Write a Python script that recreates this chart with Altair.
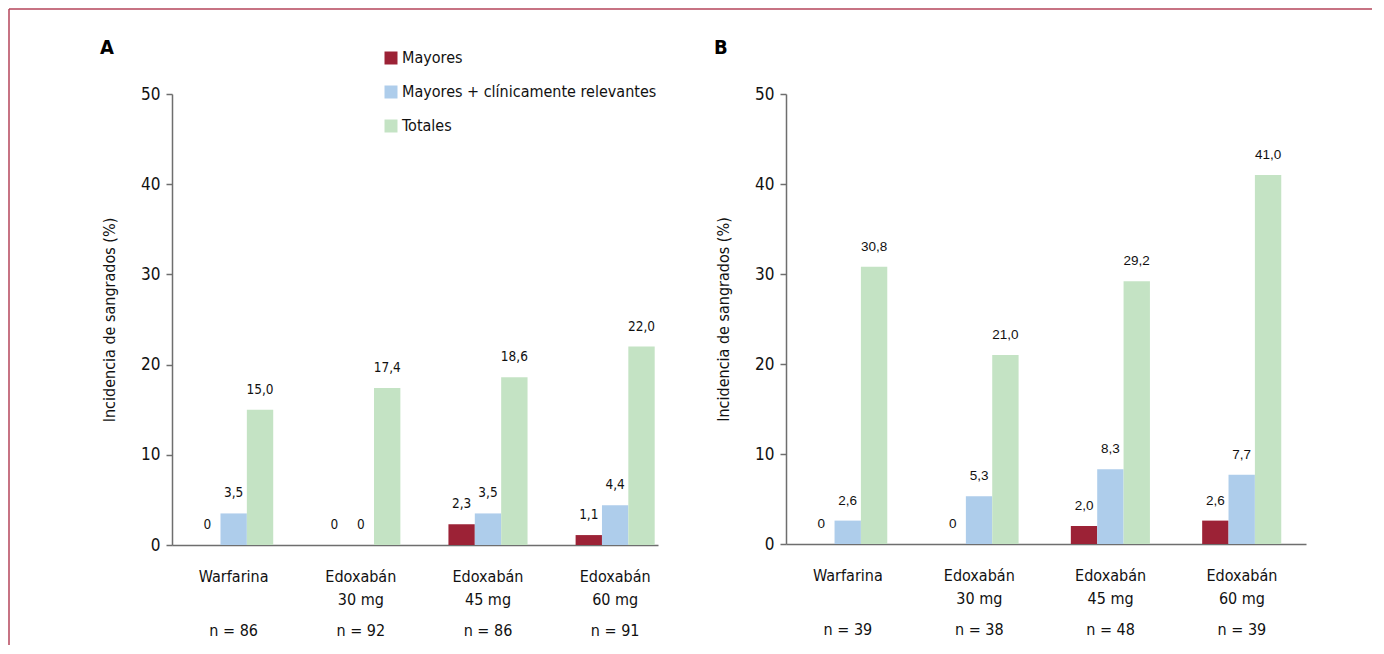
import altair as alt
import pandas as pd

groups = ["Warfarina", "Edoxabán|30 mg", "Edoxabán|45 mg", "Edoxabán|60 mg"]
series = ["Mayores", "Mayores + clínicamente relevantes", "Totales"]
colors = ["#9c2236", "#aecdeb", "#c4e3c4"]

a_mayores = [0, 0, 2.3, 1.1]
a_relevantes = [3.5, 0, 3.5, 4.4]
a_totales = [15.0, 17.4, 18.6, 22.0]
a_n = ["n = 86", "n = 92", "n = 86", "n = 91"]

b_mayores = [0, 0, 2.0, 2.6]
b_relevantes = [2.6, 5.3, 8.3, 7.7]
b_totales = [30.8, 21.0, 29.2, 41.0]
b_n = ["n = 39", "n = 38", "n = 48", "n = 39"]

y_ticks = [0, 10, 20, 30, 40, 50]

NARROW = "Liberation Sans Narrow, DejaVu Sans Condensed, sans-serif"
REG = "Liberation Sans, Arial, sans-serif"
FRAME = "#b4455a"


def long_df(m, r, t):
    rows = []
    for i, g in enumerate(groups):
        for s, v in zip(series, [m[i], r[i], t[i]]):
            rows.append({"grupo": g, "serie": s, "valor": v})
    return pd.DataFrame(rows)


def panel(letter, m, r, t, nlab, w, h, pin, pout, align, label_font, frame=False):
    df = long_df(m, r, t)
    ndf = pd.DataFrame({"grupo": groups, "n": nlab})
    xscale = alt.Scale(domain=groups, paddingInner=pin, paddingOuter=pout, align=align)
    xenc = alt.X(
        "grupo:N",
        scale=xscale,
        sort=groups,
        title=None,
        axis=alt.Axis(
            labelExpr="split(datum.label, '|')",
            labelAngle=0,
            ticks=False,
            labelPadding=23,
            labelFontSize=16,
            labelFont=NARROW,
            labelColor="#111",
            labelLineHeight=23,
            domainColor="#6e6e6e",
            domainWidth=1.5,
        ),
    )
    xoff = alt.XOffset("serie:N", scale=alt.Scale(domain=series, paddingInner=0, paddingOuter=0))
    yenc = alt.Y(
        "valor:Q",
        scale=alt.Scale(domain=[0, 50], nice=False),
        title="Incidencia de sangrados (%)",
        axis=alt.Axis(
            values=y_ticks,
            grid=False,
            tickSize=6,
            tickColor="#6e6e6e",
            tickWidth=1.5,
            domainColor="#6e6e6e",
            domainWidth=1.5,
            labelFontSize=17,
            labelFont=NARROW,
            labelColor="#111",
            labelPadding=6,
            titleFont=NARROW,
            titleFontSize=16,
            titleFontWeight="normal",
            titleColor="#111",
            titlePadding=23,
        ),
    )
    color = alt.Color(
        "serie:N",
        scale=alt.Scale(domain=series, range=colors),
        legend=alt.Legend(
            title=None,
            orient="none",
            legendX=211,
            legendY=-44,
            symbolType="square",
            symbolSize=169,
            symbolStrokeWidth=0,
            labelFont=NARROW,
            labelFontSize=16,
            labelColor="#111",
            labelOffset=3,
            labelLimit=0,
            rowPadding=18,
            padding=0,
        ),
    )
    base = alt.Chart(df)
    bars = base.mark_bar(strokeWidth=0).encode(x=xenc, xOffset=xoff, y=yenc, color=color)
    text = base.transform_calculate(
        lab="datum.valor == 0 ? '0' : replace(format(datum.valor, '.1f'), '.', ',')"
    ).mark_text(baseline="middle", dy=-20, fontSize=13.5, font=label_font, color="#111").encode(
        x=alt.X("grupo:N", scale=xscale, sort=groups),
        xOffset=xoff,
        y=alt.Y("valor:Q"),
        text="lab:N",
    )
    ntext = alt.Chart(ndf).mark_text(
        baseline="middle", fontSize=16, font=NARROW, color="#111"
    ).encode(
        x=alt.X("grupo:N", scale=xscale, sort=groups),
        y=alt.value(h + 86),
        text="n:N",
    )
    ldf = pd.DataFrame({"letra": [letter]})
    title = alt.Chart(ldf).mark_text(
        align="left", baseline="middle", fontSize=20, fontWeight="bold", font=NARROW, color="#000"
    ).encode(x=alt.value(-72), y=alt.value(-46), text="letra:N")
    layers = [bars, text, ntext, title]
    if frame:
        fdf = pd.DataFrame({"k": ["frame"]})
        top = alt.Chart(fdf).mark_rule(color=FRAME, strokeWidth=1.5).encode(
            x=alt.value(-163), x2=alt.value(1200), y=alt.value(-85)
        )
        left = alt.Chart(fdf).mark_rule(color=FRAME, strokeWidth=1.5).encode(
            x=alt.value(-163), y=alt.value(-85), y2=alt.value(h + 100)
        )
        layers += [top, left]
    return alt.layer(*layers).properties(width=w, height=h)


pa = panel("A", a_mayores, a_relevantes, a_totales, a_n, 486, 451, 0.378, 0.1, 0.87, NARROW, frame=True)
pb = panel("B", b_mayores, b_relevantes, b_totales, b_n, 520, 450, 0.3945, 0.177, 0.477, REG)

chart = alt.hconcat(pa, pb, spacing=128, bounds="flush").resolve_scale(
    color="shared"
).configure_view(stroke=None).properties(padding=0, background="white")

chart.save("out.html", embed_options={"renderer": "svg", "actions": False})
